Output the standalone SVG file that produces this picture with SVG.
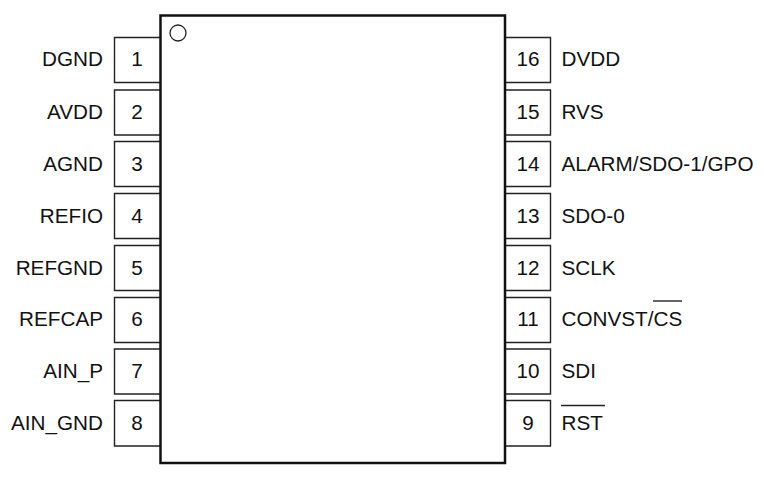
<svg xmlns="http://www.w3.org/2000/svg" width="764" height="478" viewBox="0 0 764 478">
<style>
text{font-family:"Liberation Sans",Arial,sans-serif;font-size:20.700px;fill:#111}
.l{text-anchor:end}
.n{text-anchor:middle}
.box{fill:none;stroke:#222;stroke-width:1.400}
.bar{stroke:#222;stroke-width:1.400;fill:none}
</style>
<rect width="764" height="478" fill="#fff"/>
<g id="pin1"><path class="box" d="M160 37.500H114.500V82.500H160"/><text class="n" x="137" y="66">1</text><text class="l" x="103" y="66">DGND</text></g>
<g id="pin2"><path class="box" d="M160 90H114.500V135H160"/><text class="n" x="137" y="118.500">2</text><text class="l" x="103" y="118.500">AVDD</text></g>
<g id="pin3"><path class="box" d="M160 141.500H114.500V186.500H160"/><text class="n" x="137" y="170.500">3</text><text class="l" x="103" y="170.500">AGND</text></g>
<g id="pin4"><path class="box" d="M160 193.500H114.500V238.500H160"/><text class="n" x="137" y="222.500">4</text><text class="l" x="103" y="222.500">REFIO</text></g>
<g id="pin5"><path class="box" d="M160 245.500H114.500V290.500H160"/><text class="n" x="137" y="274.500">5</text><text class="l" x="103" y="274.500">REFGND</text></g>
<g id="pin6"><path class="box" d="M160 297.500H114.500V342.500H160"/><text class="n" x="137" y="326">6</text><text class="l" x="103" y="326">REFCAP</text></g>
<g id="pin7"><path class="box" d="M160 349H114.500V394H160"/><text class="n" x="137" y="378">7</text><text class="l" x="103" y="378">AIN_P</text></g>
<g id="pin8"><path class="box" d="M160 400.500H114.500V446H160"/><text class="n" x="137" y="430">8</text><text class="l" x="103" y="430">AIN_GND</text></g>
<g id="pin16"><path class="box" d="M505 37.500H550.500V82.500H505"/><text class="n" x="528" y="66">16</text><text x="561.500" y="66">DVDD</text></g>
<g id="pin15"><path class="box" d="M505 90H550.500V135H505"/><text class="n" x="528" y="118.500">15</text><text x="561.500" y="118.500">RVS</text></g>
<g id="pin14"><path class="box" d="M505 141.500H550.500V186.500H505"/><text class="n" x="528" y="170.500">14</text><text x="561.500" y="170.500">ALARM/SDO-1/GPO</text></g>
<g id="pin13"><path class="box" d="M505 193.500H550.500V238.500H505"/><text class="n" x="528" y="222.500">13</text><text x="561.500" y="222.500">SDO-0</text></g>
<g id="pin12"><path class="box" d="M505 245.500H550.500V290.500H505"/><text class="n" x="528" y="274.500">12</text><text x="561.500" y="274.500">SCLK</text></g>
<g id="pin11"><path class="box" d="M505 297.500H550.500V342.500H505"/><text class="n" x="528" y="326">11</text><text x="561.500" y="326">CONVST/CS</text><path class="bar" d="M653 301H682"/></g>
<g id="pin10"><path class="box" d="M505 349H550.500V394H505"/><text class="n" x="528" y="378">10</text><text x="561.500" y="378">SDI</text></g>
<g id="pin9"><path class="box" d="M505 400.500H550.500V446H505"/><text class="n" x="528" y="430">9</text><text x="561.500" y="430">RST</text><path class="bar" d="M561 405.500H605"/></g>
<g id="chip"><rect x="160.500" y="15.500" width="344.500" height="447.500" fill="none" stroke="#111" stroke-width="2.500"/><circle cx="178" cy="33" r="8" fill="none" stroke="#222" stroke-width="1.300"/></g>
<g id="connectors"></g>
</svg>
